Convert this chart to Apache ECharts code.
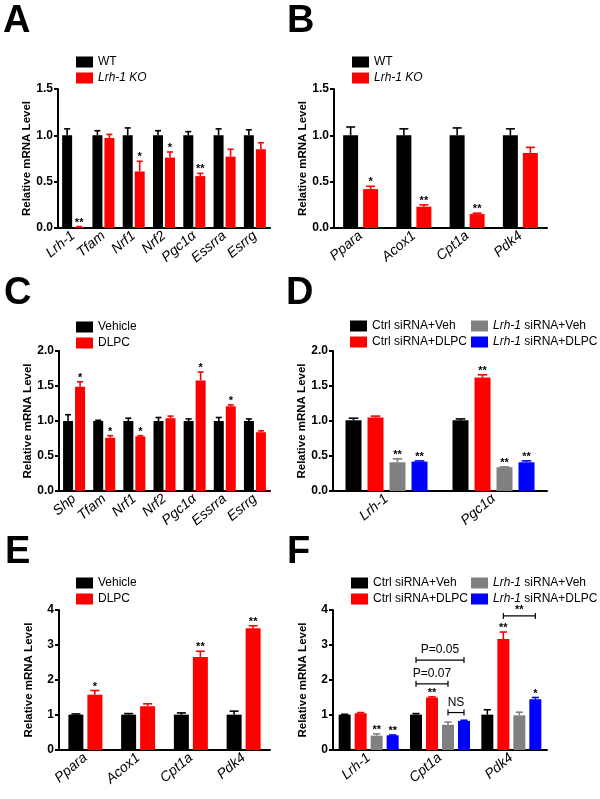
<!DOCTYPE html>
<html><head><meta charset="utf-8">
<script src="https://cdn.jsdelivr.net/npm/echarts@6/dist/echarts.min.js"></script>
<style>html,body{margin:0;padding:0;background:#fff}#c{width:600px;height:799px}</style>
</head><body><div id="c"></div>
<script>
const FONT = '"Liberation Sans", Arial, Helvetica, sans-serif';

// ---- Panel A ----
const catsA = ['Lrh-1','Tfam','Nrf1','Nrf2','Pgc1α','Essrra','Esrrg'];
const wtA = [1.0,1.0,1.0,1.0,1.0,1.0,1.0];
const wtErrA = [0.07,0.05,0.08,0.05,0.04,0.07,0.06];
const koA = [0.01,0.97,0.61,0.76,0.56,0.77,0.85];
const koErrA = [0.005,0.04,0.11,0.06,0.03,0.08,0.07];
const koStarsA = ['**','','*','*','**','',''];

// ---- Panel B ----
const catsB = ['Ppara','Acox1','Cpt1a','Pdk4'];
const wtB = [1.0,1.0,1.0,1.0];
const wtErrB = [0.09,0.07,0.08,0.07];
const koB = [0.42,0.23,0.15,0.81];
const koErrB = [0.03,0.02,0.01,0.06];
const koStarsB = ['*','**','**',''];

// ---- Panel C ----
const catsC = ['Shp','Tfam','Nrf1','Nrf2','Pgc1α','Essrra','Esrrg'];
const vehC = [1.0,1.0,1.0,1.0,1.0,1.0,1.0];
const vehErrC = [0.09,0.01,0.04,0.05,0.03,0.05,0.03];
const dlpcC = [1.49,0.76,0.78,1.04,1.58,1.21,0.84];
const dlpcErrC = [0.07,0.03,0.01,0.03,0.12,0.02,0.02];
const dlpcStarsC = ['*','*','*','','*','*',''];

// ---- Panel D ----
const catsD = ['Lrh-1','Pgc1α'];
const ctrlVehD = [1.01,1.01];
const ctrlVehErrD = [0.03,0.02];
const ctrlDlpcD = [1.05,1.62];
const ctrlDlpcErrD = [0.02,0.04];
const ctrlDlpcStarsD = ['','**'];
const lrhVehD = [0.41,0.34];
const lrhVehErrD = [0.05,0.005];
const lrhVehStarsD = ['**','**'];
const lrhDlpcD = [0.42,0.41];
const lrhDlpcErrD = [0.01,0.02];
const lrhDlpcStarsD = ['**','**'];

// ---- Panel E ----
const catsE = ['Ppara','Acox1','Cpt1a','Pdk4'];
const vehE = [1.01,1.01,1.01,1.01];
const vehErrE = [0.02,0.03,0.05,0.1];
const dlpcE = [1.58,1.25,2.66,3.48];
const dlpcErrE = [0.12,0.07,0.16,0.07];
const dlpcStarsE = ['*','','**','**'];

// ---- Panel F ----
const catsF = ['Lrh-1','Cpt1a','Pdk4'];
const ctrlVehF = [1.01,1.01,1.01];
const ctrlVehErrF = [0.01,0.03,0.14];
const ctrlDlpcF = [1.05,1.5,3.17];
const ctrlDlpcErrF = [0.02,0.02,0.2];
const ctrlDlpcStarsF = ['','**','**'];
const lrhVehF = [0.41,0.72,0.99];
const lrhVehErrF = [0.05,0.08,0.09];
const lrhVehStarsF = ['**','',''];
const lrhDlpcF = [0.42,0.83,1.45];
const lrhDlpcErrF = [0.01,0.02,0.05];
const lrhDlpcStarsF = ['**','','*'];
// comparison brackets in F
const bracketCatF = [1,1,1,2];
const bracketFromF = [0,0,2,1];
const bracketToF = [3,2,3,3];
const bracketYF = [2.57,1.89,1.07,3.83];
const bracketTextF = ['P=0.05','P=0.07','NS','**'];

const BLACK='#000000', RED='#ff0000', GRAY='#808080', BLUE='#0000ff';

const grids=[], xAxes=[], yAxes=[], series=[];

function errRender(k, n, bw, gap, color, stars){
  return function(params, api){
    const i=api.value(0), v=api.value(1), e=api.value(2);
    const total=n*bw+(n-1)*gap;
    const off=-total/2+bw/2+k*(bw+gap);
    const p0=api.coord([i,v]), p1=api.coord([i,v+e]);
    const x=p0[0]+off, cw=Math.max(6,bw*0.6);
    const ch=[];
    if(e>0){
      ch.push({type:'line',shape:{x1:x,y1:p0[1],x2:x,y2:p1[1]},style:{stroke:color,lineWidth:1.6}});
      ch.push({type:'line',shape:{x1:x-cw/2,y1:p1[1],x2:x+cw/2,y2:p1[1]},style:{stroke:color,lineWidth:1.6}});
    }
    const st=stars?stars[params.dataIndex]:'';
    if(st){
      ch.push({type:'text',style:{text:st,x:x,y:p1[1]-4,align:'center',verticalAlign:'middle',textAlign:'center',textVerticalAlign:'middle',fontSize:11,fontWeight:'bold',fontFamily:FONT,fill:'#000'}});
    }
    return {type:'group',children:ch};
  };
}

function panel(grid, cats, yMax, yInt, dec, list, bw, gap){
  const gi=grids.length;
  grids.push(Object.assign({containLabel:false},grid));
  xAxes.push({type:'category',gridIndex:gi,data:cats,
    axisLine:{lineStyle:{color:'#000',width:2}},
    axisTick:{alignWithLabel:true,length:4,lineStyle:{color:'#000',width:1.5}},
    axisLabel:{rotate:40,margin:6,interval:0,fontSize:14,fontStyle:'italic',fontFamily:FONT,color:'#000'},
    splitLine:{show:false}});
  yAxes.push({type:'value',gridIndex:gi,min:0,max:yMax,interval:yInt,
    name:'Relative mRNA Level',nameLocation:'middle',nameGap:24,
    nameTextStyle:{fontSize:11.5,fontWeight:'bold',fontFamily:FONT,color:'#000'},
    axisLine:{show:true,lineStyle:{color:'#000',width:2}},
    axisTick:{show:true,length:4,lineStyle:{color:'#000',width:2}},
    axisLabel:{margin:5,fontSize:12,fontWeight:'bold',fontFamily:FONT,color:'#000',formatter:v=>v.toFixed(dec)},
    splitLine:{show:false}});
  const n=list.length;
  list.forEach((s,k)=>{
    series.push({type:'bar',name:s.name,xAxisIndex:gi,yAxisIndex:gi,data:s.values,barWidth:bw,barGap:(gap/bw*100)+'%',itemStyle:{color:s.color},animation:false,silent:true});
    series.push({type:'custom',xAxisIndex:gi,yAxisIndex:gi,data:s.values.map((v,i)=>[i,v,s.errs[i]]),encode:{x:0,y:1},renderItem:errRender(k,n,bw,gap,s.color,s.stars),clip:false,silent:true,z:3,animation:false});
  });
  return gi;
}

panel({left:58,top:89,width:212,height:139}, catsA, 1.5, 0.5, 1, [
  {name:'WT',color:BLACK,values:wtA,errs:wtErrA},
  {name:'Lrh-1 KO',color:RED,values:koA,errs:koErrA,stars:koStarsA}], 10, 2);
panel({left:334,top:89,width:213,height:139}, catsB, 1.5, 0.5, 1, [
  {name:'WT',color:BLACK,values:wtB,errs:wtErrB},
  {name:'Lrh-1 KO',color:RED,values:koB,errs:koErrB,stars:koStarsB}], 15, 5);
panel({left:59,top:351,width:211,height:140}, catsC, 2, 0.5, 1, [
  {name:'Vehicle',color:BLACK,values:vehC,errs:vehErrC},
  {name:'DLPC',color:RED,values:dlpcC,errs:dlpcErrC,stars:dlpcStarsC}], 10, 2);
panel({left:333,top:351,width:214,height:140}, catsD, 2, 0.5, 1, [
  {name:'Ctrl siRNA+Veh',color:BLACK,values:ctrlVehD,errs:ctrlVehErrD},
  {name:'Ctrl siRNA+DLPC',color:RED,values:ctrlDlpcD,errs:ctrlDlpcErrD,stars:ctrlDlpcStarsD},
  {name:'Lrh-1 siRNA+Veh',color:GRAY,values:lrhVehD,errs:lrhVehErrD,stars:lrhVehStarsD},
  {name:'Lrh-1 siRNA+DLPC',color:BLUE,values:lrhDlpcD,errs:lrhDlpcErrD,stars:lrhDlpcStarsD}], 16, 6);
panel({left:59,top:610,width:211,height:140}, catsE, 4, 1, 0, [
  {name:'Vehicle',color:BLACK,values:vehE,errs:vehErrE},
  {name:'DLPC',color:RED,values:dlpcE,errs:dlpcErrE,stars:dlpcStarsE}], 15, 4);
const giF = panel({left:333,top:610,width:214,height:140}, catsF, 4, 1, 0, [
  {name:'Ctrl siRNA+Veh',color:BLACK,values:ctrlVehF,errs:ctrlVehErrF},
  {name:'Ctrl siRNA+DLPC',color:RED,values:ctrlDlpcF,errs:ctrlDlpcErrF,stars:ctrlDlpcStarsF},
  {name:'Lrh-1 siRNA+Veh',color:GRAY,values:lrhVehF,errs:lrhVehErrF,stars:lrhVehStarsF},
  {name:'Lrh-1 siRNA+DLPC',color:BLUE,values:lrhDlpcF,errs:lrhDlpcErrF,stars:lrhDlpcStarsF}], 12, 4);

// brackets for F
series.push({type:'custom',xAxisIndex:giF,yAxisIndex:giF,clip:false,silent:true,z:4,animation:false,
  data:bracketCatF.map((c,j)=>[c,bracketYF[j]]),encode:{x:0,y:1},
  renderItem:function(params,api){
    const j=params.dataIndex, bw=12, gap=4, n=4;
    const total=n*bw+(n-1)*gap;
    const offOf=k=>-total/2+bw/2+k*(bw+gap);
    const p=api.coord([api.value(0),api.value(1)]);
    const x1=p[0]+offOf(bracketFromF[j]), x2=p[0]+offOf(bracketToF[j]), y=p[1];
    const txt=bracketTextF[j];
    const isStar=txt.indexOf('*')>=0;
    return {type:'group',children:[
      {type:'line',shape:{x1:x1,y1:y,x2:x2,y2:y},style:{stroke:'#000',lineWidth:1.2}},
      {type:'line',shape:{x1:x1,y1:y-3,x2:x1,y2:y+3},style:{stroke:'#000',lineWidth:1.2}},
      {type:'line',shape:{x1:x2,y1:y-3,x2:x2,y2:y+3},style:{stroke:'#000',lineWidth:1.2}},
      {type:'text',style:{text:txt,x:(x1+x2)/2,y:y-(isStar?6:10),align:'center',verticalAlign:'middle',textAlign:'center',textVerticalAlign:'middle',
        fontSize:isStar?11:12,fontWeight:isStar?'bold':'normal',fontFamily:FONT,fill:'#000'}}
    ]};
  }});

function legend(left, top, names){
  return {left:left,top:top,orient:'vertical',itemWidth:17,itemHeight:11,itemGap:4,icon:'rect',selectedMode:false,
    data:names,
    formatter:function(nm){
      if(nm==='Lrh-1 KO') return '{i|Lrh-1 KO}';
      if(nm.indexOf('Lrh-1')===0) return '{i|Lrh-1}{n|'+nm.slice(5)+'}';
      return '{n|'+nm+'}';
    },
    textStyle:{fontSize:12,fontFamily:FONT,color:'#000',padding:0,
      rich:{i:{fontStyle:'italic',fontSize:12,fontFamily:FONT,color:'#000'},n:{fontSize:12,fontFamily:FONT,color:'#000'}}}
  };
}

const letters=[['A',3,21.5],['B',287,21.5],['C',4,294],['D',286,294],['E',5,553],['F',287,553]];

const option={
  backgroundColor:'#ffffff',
  animation:false,
  grid:grids, xAxis:xAxes, yAxis:yAxes, series:series,
  legend:[
    legend(71,51,['WT','Lrh-1 KO']),
    legend(347,51,['WT','Lrh-1 KO']),
    legend(71,316,['Vehicle','DLPC']),
    legend(345,315,['Ctrl siRNA+Veh','Ctrl siRNA+DLPC']),
    legend(466,315,['Lrh-1 siRNA+Veh','Lrh-1 siRNA+DLPC']),
    legend(71,572,['Vehicle','DLPC']),
    legend(346,572,['Ctrl siRNA+Veh','Ctrl siRNA+DLPC']),
    legend(466,572,['Lrh-1 siRNA+Veh','Lrh-1 siRNA+DLPC'])
  ],
  graphic:letters.map(l=>({type:'text',left:l[1],top:l[2]-19,style:{text:l[0],fontSize:38,fontWeight:'bold',fontFamily:FONT,fill:'#000'}}))
};
const chart=echarts.init(document.getElementById('c'),null,{renderer:'canvas'});
chart.setOption(option);
</script></body></html>
